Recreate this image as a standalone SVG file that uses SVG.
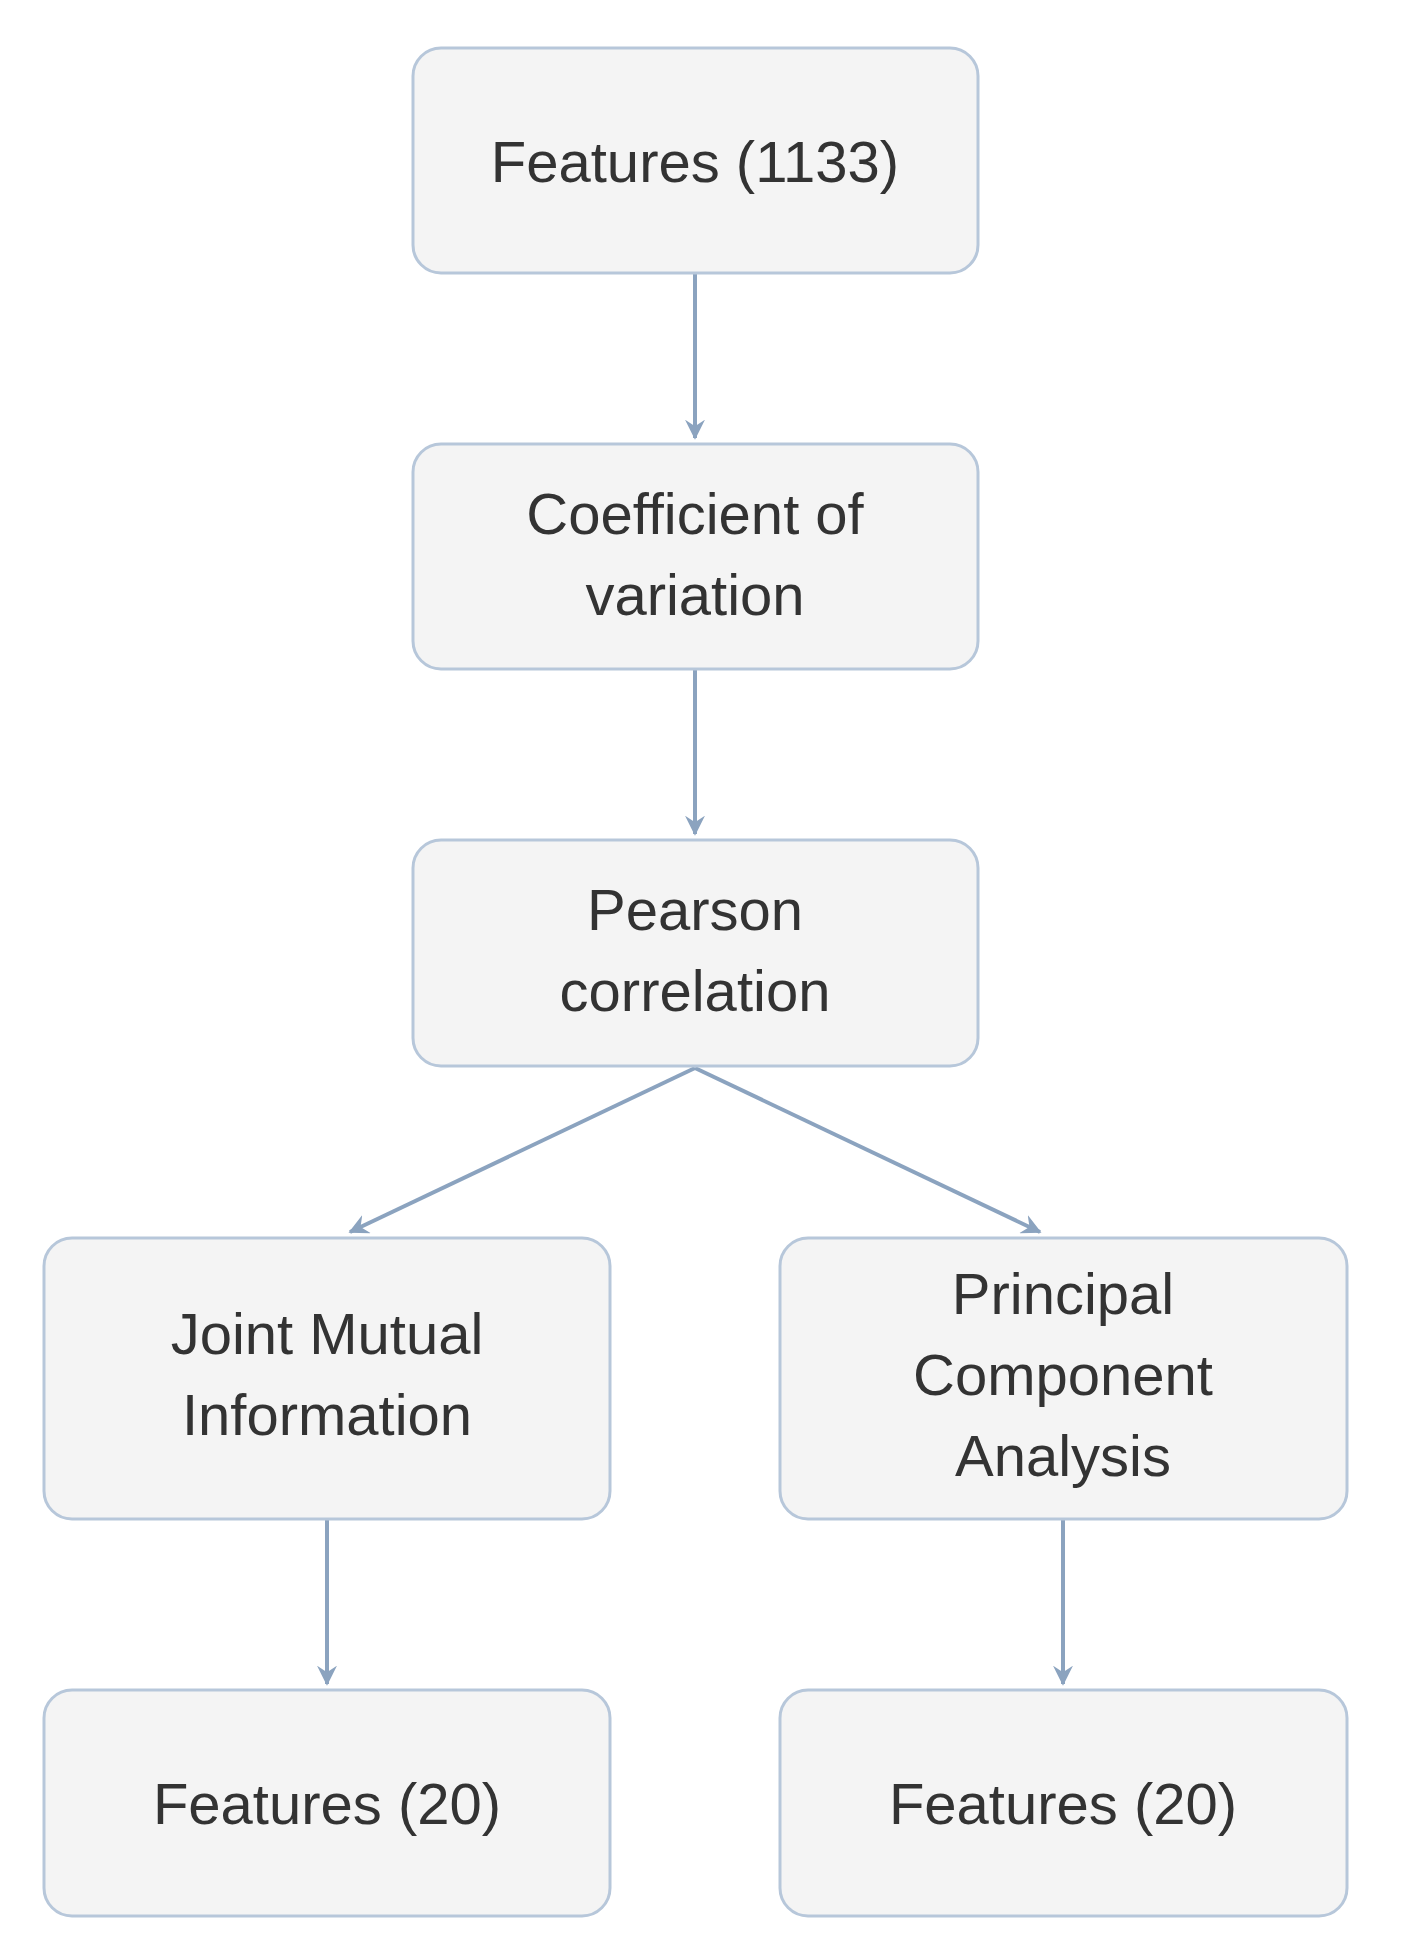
<svg xmlns="http://www.w3.org/2000/svg" width="1414" height="1960" viewBox="0 0 1414 1960">
<style>
.b{fill:#f4f4f4;stroke:#b7c7da;stroke-width:3}
.t{font-family:"Liberation Sans",Arial,sans-serif;font-size:58px;fill:#333;text-anchor:middle}
.c{stroke:#8ba3bf;stroke-width:4;fill:none}
</style>
<defs><marker id="a" viewBox="0 0 12 12" refX="11" refY="6" markerWidth="12" markerHeight="12" markerUnits="userSpaceOnUse" orient="auto"><path d="M0,0 L12,6 L0,12 L4,6 Z" fill="#8ba3bf"/></marker>
<marker id="m" viewBox="0 0 12 12" refX="11" refY="6" markerWidth="5" markerHeight="5" orient="auto"><path d="M0,0 L12,6 L0,12 L4,6 Z" fill="#8ba3bf"/></marker></defs>
<rect width="1414" height="1960" fill="#fff"/>
<g id="connectors">
<line class="c" x1="695" y1="273" x2="695" y2="438" marker-end="url(#m)"/>
<line class="c" x1="695" y1="669" x2="695" y2="834" marker-end="url(#m)"/>
<line class="c" x1="695" y1="1068" x2="350" y2="1232" marker-end="url(#m)"/>
<line class="c" x1="695" y1="1068" x2="1040" y2="1232" marker-end="url(#m)"/>
<line class="c" x1="327" y1="1519" x2="327" y2="1684" marker-end="url(#m)"/>
<line class="c" x1="1063" y1="1519" x2="1063" y2="1684" marker-end="url(#m)"/>
</g>
<g id="n1"><rect class="b" x="413" y="48" width="565" height="225" rx="28"/><text class="t" x="695" y="182">Features (1133)</text></g>
<g id="n2"><rect class="b" x="413" y="444" width="565" height="225" rx="28"/><text class="t" x="695" y="534">Coefficient of</text><text class="t" x="695" y="615">variation</text></g>
<g id="n3"><rect class="b" x="413" y="840" width="565" height="226" rx="28"/><text class="t" x="695" y="930">Pearson</text><text class="t" x="695" y="1011">correlation</text></g>
<g id="n4"><rect class="b" x="44" y="1238" width="566" height="281" rx="28"/><text class="t" x="327" y="1354">Joint Mutual</text><text class="t" x="327" y="1435">Information</text></g>
<g id="n5"><rect class="b" x="780" y="1238" width="567" height="281" rx="28"/><text class="t" x="1063" y="1314">Principal</text><text class="t" x="1063" y="1395">Component</text><text class="t" x="1063" y="1476">Analysis</text></g>
<g id="n6"><rect class="b" x="44" y="1690" width="566" height="226" rx="28"/><text class="t" x="327" y="1824">Features (20)</text></g>
<g id="n7"><rect class="b" x="780" y="1690" width="567" height="226" rx="28"/><text class="t" x="1063" y="1824">Features (20)</text></g>
</svg>
